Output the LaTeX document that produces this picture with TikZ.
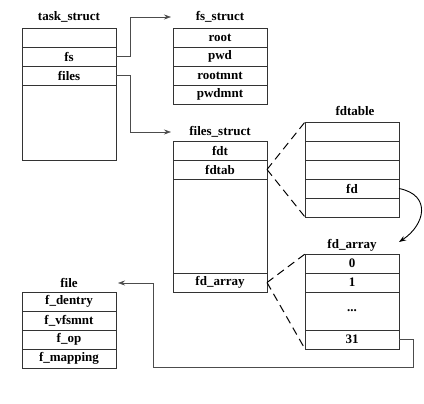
\documentclass[tikz,border=0pt]{standalone}
\usepackage{fontspec}
\setmainfont{Liberation Serif}
\usetikzlibrary{positioning,arrows.meta}
\tikzset{>={Stealth[length=7pt,width=5pt]}}
\newcommand{\boxfont}{\fontsize{13}{15}\selectfont\bfseries}
\tikzset{
  cell/.style={draw=black!80,line width=0.6pt,minimum width=94pt,minimum height=19pt,
    inner sep=0pt,outer sep=0pt,font=\boxfont},
  title/.style={inner sep=0pt,font=\boxfont},
  link/.style={->,black!70,line width=0.6pt},
  zoomline/.style={line width=1pt,dash pattern=on 8pt off 5pt}
}

\begin{document}
\begin{tikzpicture}[x=1pt,y=1pt]
        \useasboundingbox (0,0) rectangle (424,-404);
        % task_struct
        \node[title] (tsname) at (69,-17) {task\_struct};
        \node[cell] (ts0) at (69,-37.5) {};
        \node[cell,below=0pt of ts0] (fs) {fs};
        \node[cell,below=0pt of fs] (files) {files};
        \node[cell,below=0pt of files,minimum height=75pt] (ts3) {};
        % fs_struct
        \node[title] (fsname) at (220,-17) {fs\_struct};
        \node[cell] (root) at (220,-37.5) {root};
        \node[cell,below=0pt of root] (pwd) {pwd};
        \node[cell,below=0pt of pwd] (rootmnt) {rootmnt};
        \node[cell,below=0pt of rootmnt] (pwdmnt) {pwdmnt};
        % files_struct
        \node[title] (filesname) at (220,-132) {files\_struct};
        \node[cell] (fdt) at (220,-150.5) {fdt};
        \node[cell,below=0pt of fdt] (fdtab) {fdtab};
        \node[cell,below=0pt of fdtab,minimum height=94pt] (fsmid) {};
        \node[cell,below=0pt of fsmid] (fdarr) {fd\_array};
        % fdtable
        \node[title] (fdtname) at (355,-111) {fdtable};
        \node[cell] (fdt1) at (352,-131.5) {};
        \node[cell,below=0pt of fdt1] (fdt2) {};
        \node[cell,below=0pt of fdt2] (fdt3) {};
        \node[cell,below=0pt of fdt3] (fd) {fd};
        \node[cell,below=0pt of fd] (fdt5) {};
        % fd_array
        \node[title] (fdaname) at (352,-245) {fd\_array};
        \node[cell] (fda0) at (352,-263.5) {0};
        \node[cell,below=0pt of fda0] (fda1) {1};
        \node[cell,below=0pt of fda1,minimum height=38pt] (fdadots) {...};
        \node[cell,below=0pt of fdadots] (fda31) {31};
        % file
        \node[title] (filename) at (69,-283) {file};
        \node[cell] (fdentry) at (69,-301.5) {f\_dentry};
        \node[cell,below=0pt of fdentry] (fvfsmnt) {f\_vfsmnt};
        \node[cell,below=0pt of fvfsmnt] (fop) {f\_op};
        \node[cell,below=0pt of fop] (fmapping) {f\_mapping};
        % pointers
        \draw[link] (fs.east) -- ++(14,0) |- ([xshift=-2pt]fsname.west -| root.west);
        \draw[link] (files.east) -- ++(14,0) |- ([xshift=-2pt]filesname.west -| fdt.west);
        \coordinate (turn) at (153,-367);
        \draw[link] (fda31.east) -- ++(14,0) |- (turn) |- ([xshift=2pt]filename.east -| fdentry.east);
        \draw[->,line width=0.9pt] (fd.east) .. controls (432,-195) and (425,-225) .. ([yshift=12pt]fda0.north east);
        % zoom lines
        \draw[zoomline] (fdtab.east) -- (fdt1.north west);
        \draw[zoomline] (fdtab.east) -- (fdt5.south west);
        \draw[zoomline] (fdarr.east) -- (fda0.north west);
        \draw[zoomline] (fdarr.east) -- (fda31.south west);
\end{tikzpicture}
\end{document}
